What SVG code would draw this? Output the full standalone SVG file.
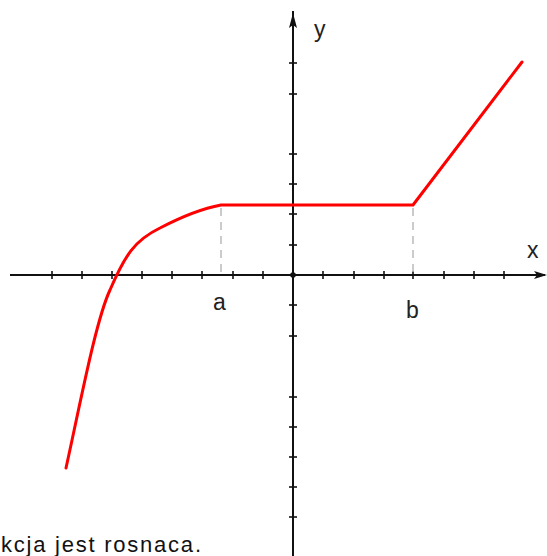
<svg xmlns="http://www.w3.org/2000/svg" width="547" height="556" viewBox="0 0 547 556">
<style>
.axis{stroke:#111;stroke-width:2;fill:none}
.tick{stroke:#111;stroke-width:1.6}
.dash{stroke:#bbb;stroke-width:1.5;stroke-dasharray:8 6;fill:none}
.graph{stroke:#ff0000;stroke-width:3;fill:none;stroke-linejoin:round;stroke-linecap:round}
.lbl{font-family:"Liberation Sans",Arial,sans-serif;font-size:23px;fill:#222}
.cap{font-family:"Liberation Sans",Arial,sans-serif;font-size:22px;fill:#111}
</style>
<rect width="547" height="556" fill="#fff"/>
<g id="axes">
<line class="axis" x1="10" y1="275" x2="545" y2="275"/>
<line class="axis" x1="293" y1="11" x2="293" y2="556"/>
<path d="M293,13 L297,28 L293,25 L289,28 Z" fill="#111"/>
<path d="M547,275 L534,271 L537,275 L534,279 Z" fill="#111"/>
<circle cx="293" cy="275" r="2.8" fill="#111"/>
</g>
<g id="ticks" class="tick">
<line x1="52" y1="271" x2="52" y2="279"/><line x1="82" y1="271" x2="82" y2="279"/>
<line x1="112" y1="271" x2="112" y2="279"/><line x1="142" y1="271" x2="142" y2="279"/>
<line x1="172" y1="271" x2="172" y2="279"/><line x1="202" y1="271" x2="202" y2="279"/>
<line x1="233" y1="271" x2="233" y2="279"/><line x1="263" y1="271" x2="263" y2="279"/>
<line x1="323" y1="271" x2="323" y2="279"/><line x1="354" y1="271" x2="354" y2="279"/>
<line x1="384" y1="271" x2="384" y2="279"/><line x1="413" y1="271" x2="413" y2="279"/>
<line x1="444" y1="271" x2="444" y2="279"/><line x1="474" y1="271" x2="474" y2="279"/>
<line x1="504" y1="271" x2="504" y2="279"/>
<line x1="289" y1="63" x2="297" y2="63"/><line x1="289" y1="94" x2="297" y2="94"/>
<line x1="289" y1="154" x2="297" y2="154"/><line x1="289" y1="184" x2="297" y2="184"/>
<line x1="289" y1="214" x2="297" y2="214"/><line x1="289" y1="245" x2="297" y2="245"/>
<line x1="289" y1="305" x2="297" y2="305"/><line x1="289" y1="336" x2="297" y2="336"/>
<line x1="289" y1="397" x2="297" y2="397"/><line x1="289" y1="427" x2="297" y2="427"/>
<line x1="289" y1="457" x2="297" y2="457"/><line x1="289" y1="487" x2="297" y2="487"/>
<line x1="289" y1="517" x2="297" y2="517"/>
</g>
<g id="guides">
<line class="dash" x1="221" y1="208" x2="221" y2="275"/>
<line class="dash" x1="413" y1="208" x2="413" y2="275"/>
</g>
<g id="graph">
<path class="graph" d="M66,468 C81,400 96,320 110,290 C125,255 135,240 160,228 C185,215 205,208 221,205 L413,205 L522,62"/>
</g>
<g id="labels">
<text class="lbl" x="314" y="37">y</text>
<text class="lbl" x="527" y="258">x</text>
<text class="lbl" x="213" y="310">a</text>
<text class="lbl" x="406" y="318">b</text>
<text class="cap" x="1" y="552" textLength="200" lengthAdjust="spacing">kcja jest rosnaca.</text>
</g>
</svg>
